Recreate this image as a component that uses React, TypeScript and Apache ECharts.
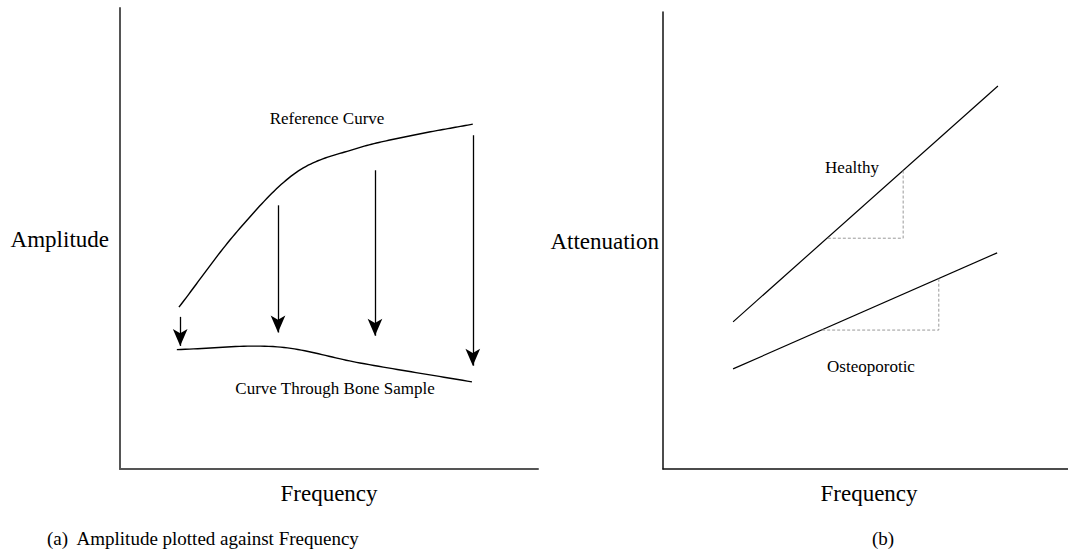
import React, { useEffect, useRef } from "react";
import * as echarts from "echarts";

// Panel (a): amplitude spectra, frequency and amplitude in arbitrary units (0–10)
const referenceCurve: [number, number][] = [
  [1.41, 3.51], [2.81, 5.16], [4.21, 6.43], [5.61, 6.94], [7.01, 7.24], [8.44, 7.48],
];
const boneCurve: [number, number][] = [
  [1.36, 2.59], [3.76, 2.65], [5.74, 2.3], [8.42, 1.89],
];
// Attenuation arrows: frequency, start amplitude, end amplitude
const arrowFreq = [1.44, 3.78, 6.1, 8.44];
const arrowFrom = [3.3, 5.72, 6.48, 7.24];
const arrowTo = [2.67, 2.96, 2.89, 2.24];

// Panel (b): attenuation vs frequency
const healthyLine: [number, number][] = [[1.73, 3.22], [8.27, 8.38]];
const osteoLine: [number, number][] = [[1.73, 2.19], [8.25, 4.73]];
// Slope triangles: [x start, x end, y base, y top]
const healthyTri = [4.07, 5.93, 5.05, 6.54];
const osteoTri = [3.93, 6.81, 3.04, 4.18];

const FONT = "'Liberation Serif', 'DejaVu Serif', serif";

// Cubic Hermite spline through pixel points (x increasing), for a smooth stroke.
function splinePx(pts: number[][], steps = 24): number[][] {
  const n = pts.length;
  const slope = pts.map((_, i) => {
    const a = pts[Math.max(0, i - 1)];
    const b = pts[Math.min(n - 1, i + 1)];
    return (b[1] - a[1]) / (b[0] - a[0]);
  });
  const out: number[][] = [pts[0]];
  for (let i = 0; i < n - 1; i++) {
    const [x0, y0] = pts[i];
    const [x1, y1] = pts[i + 1];
    const h = x1 - x0;
    for (let k = 1; k <= steps; k++) {
      const t = k / steps;
      const t2 = t * t;
      const t3 = t2 * t;
      const y =
        (2 * t3 - 3 * t2 + 1) * y0 +
        (t3 - 2 * t2 + t) * h * slope[i] +
        (-2 * t3 + 3 * t2) * y1 +
        (t3 - t2) * h * slope[i + 1];
      out.push([x0 + t * h, y]);
    }
  }
  return out;
}

function curveSeries(data: [number, number][]) {
  return {
    type: "custom" as const,
    xAxisIndex: 0,
    yAxisIndex: 0,
    data,
    silent: true,
    clip: false,
    renderItem: (params: any, api: any) => {
      if (params.dataIndex !== 0) return null;
      const px = data.map((p) => api.coord(p));
      return {
        type: "polyline",
        shape: { points: splinePx(px) },
        style: { stroke: "#000", lineWidth: 1.4, fill: null },
      };
    },
  };
}

export default function App() {
  const ref = useRef<HTMLDivElement>(null);

  useEffect(() => {
    if (!ref.current) return;
    const chart = echarts.init(ref.current, undefined, { renderer: "svg" });

    const axisBase = (color: string, width: number) => ({
      type: "value" as const,
      min: 0,
      max: 10,
      axisLine: { show: true, onZero: false, lineStyle: { color, width } },
      axisTick: { show: false },
      axisLabel: { show: false },
      splitLine: { show: false },
    });

    const tri = (t: number[]) => [
      [t[0], t[2]],
      [t[1], t[2]],
      [t[1], t[3]],
    ];

    const label = (text: string, x: number, y: number, size: number, align = "center") => ({
      type: "text",
      x,
      y,
      style: { text, font: `${size}px ${FONT}`, fill: "#000", align, verticalAlign: "middle" },
    });

    chart.setOption({
      animation: false,
      backgroundColor: "#fff",
      textStyle: { fontFamily: FONT },
      grid: [
        { left: 120, top: 8, width: 418, height: 461 },
        { left: 663, top: 12, width: 405, height: 457 },
      ],
      xAxis: [
        { ...axisBase("#555", 2), gridIndex: 0 },
        { ...axisBase("#111", 1.5), gridIndex: 1 },
      ],
      yAxis: [
        { ...axisBase("#555", 2), gridIndex: 0 },
        { ...axisBase("#111", 1.5), gridIndex: 1 },
      ],
      series: [
        curveSeries(referenceCurve),
        curveSeries(boneCurve),
        {
          type: "line", xAxisIndex: 0, yAxisIndex: 0, data: [], silent: true,
          markLine: {
            silent: true,
            symbol: ["none", "arrow"],
            symbolSize: [11, 17],
            label: { show: false },
            lineStyle: { color: "#000", width: 1.3, type: "solid" },
            data: arrowFreq.map((f, i) => [
              { coord: [f, arrowFrom[i]] },
              { coord: [f, arrowTo[i]] },
            ]),
          },
        },
        {
          type: "line", xAxisIndex: 1, yAxisIndex: 1, data: healthyLine,
          showSymbol: false, lineStyle: { color: "#000", width: 1.2 }, silent: true,
        },
        {
          type: "line", xAxisIndex: 1, yAxisIndex: 1, data: osteoLine,
          showSymbol: false, lineStyle: { color: "#000", width: 1.2 }, silent: true,
        },
        {
          type: "line", xAxisIndex: 1, yAxisIndex: 1, data: tri(healthyTri),
          showSymbol: false, lineStyle: { color: "#999", width: 1, type: [3, 2] }, silent: true,
        },
        {
          type: "line", xAxisIndex: 1, yAxisIndex: 1, data: tri(osteoTri),
          showSymbol: false, lineStyle: { color: "#999", width: 1, type: [3, 2] }, silent: true,
        },
      ],
      graphic: [
        label("Amplitude", 109, 239, 23, "right"),
        label("Frequency", 329, 493, 23),
        label("Attenuation", 659, 241, 23, "right"),
        label("Frequency", 869, 493, 23),
        label("Reference Curve", 327, 118, 17),
        label("Curve Through Bone Sample", 335, 388, 17),
        label("Healthy", 852, 167, 17),
        label("Osteoporotic", 871, 366, 17),
        label("(a)  Amplitude plotted against Frequency", 47, 538, 19, "left"),
        label("(b)", 883, 538, 19),
      ],
    });

    return () => chart.dispose();
  }, []);

  return (
    <div
      ref={ref}
      style={{ position: "fixed", left: 0, top: 0, width: 1068, height: 552, background: "#fff" }}
    />
  );
}
